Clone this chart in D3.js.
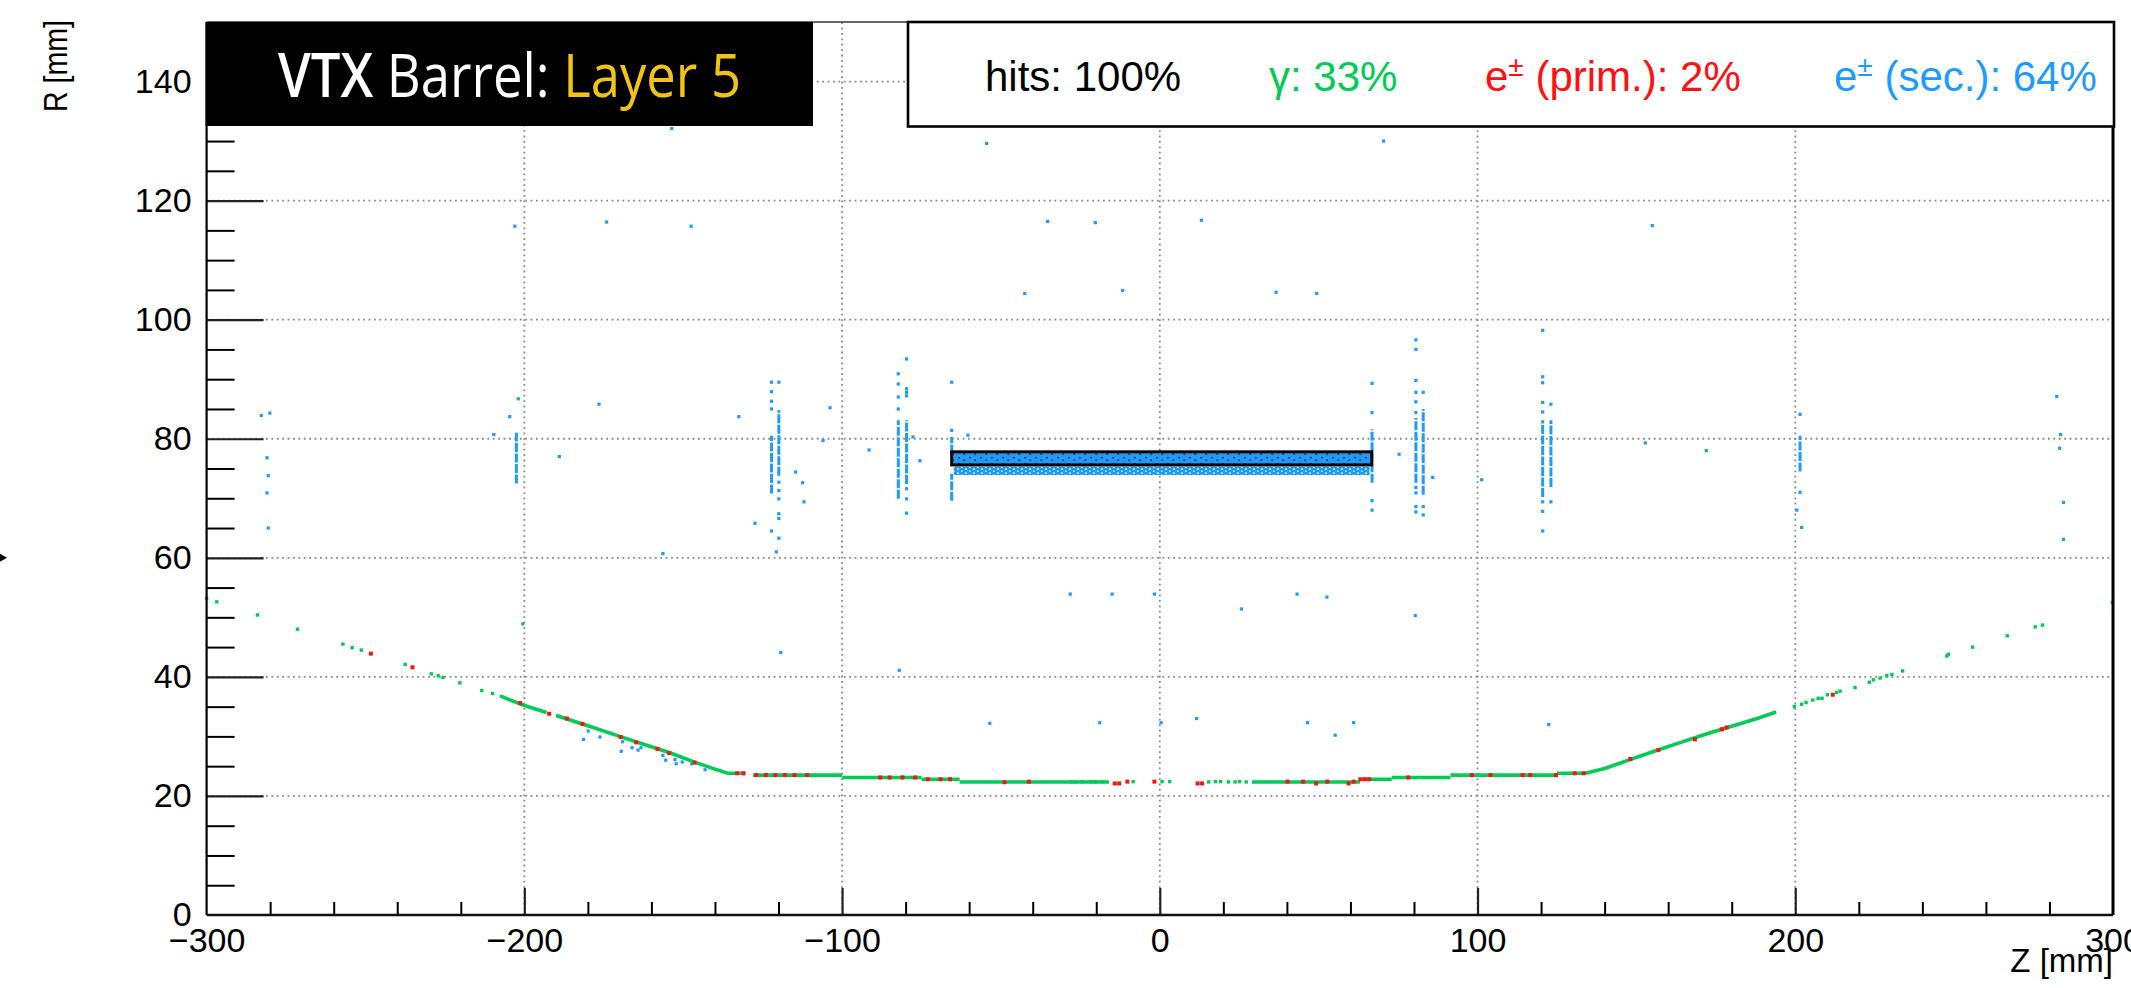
<!DOCTYPE html>
<html><head><meta charset="utf-8">
<script src="https://cdn.jsdelivr.net/npm/d3@7"></script>
<style>html,body{margin:0;padding:0;background:#fff;overflow:hidden}</style>
</head><body>
<svg id="c" width="2131" height="988" xmlns="http://www.w3.org/2000/svg"></svg>
<script>
// ---------------- data ----------------
const zTicks = [-300, -200, -100, 0, 100, 200, 300];
const rTicks = [0, 20, 40, 60, 80, 100, 120, 140];
const zMinorTicks = [-280,-260,-240,-220,-180,-160,-140,-120,-80,-60,-40,-20,20,40,60,80,120,140,160,180,220,240,260,280];
const rMinorTicks = [5,10,15,25,30,35,45,50,55,65,70,75,85,90,95,105,110,115,125,130,135,145];
const zLabel = "Z [mm]";
const rLabel = "R [mm]";
const titleParts = ["VTX", " Barrel: ", "Layer 5"];
const legendLabels = ["hits: 100%", "γ: 33%", "(prim.): 2%", "(sec.): 64%"];

// dense gamma hits along the beam pipe: polylines of [z, R]
const gammaTrace = [
  [[-207.7,36.8],[-200,35.2],[-193,34.0]],
  [[-190,33.5],[-180,31.8],[-170,30.0],[-162,28.6],[-154,27.2],[-146,25.6],[-140,24.5],[-136,23.8],[-130.8,23.8]],
  [[-128,23.5],[-100,23.5]],
  [[-100,23.1],[-75,23.1]],
  [[-75,22.8],[-63,22.8]],
  [[-63,22.35],[-16,22.35]],
  [[29,22.35],[63,22.35]],
  [[63,22.8],[73,22.8]],
  [[73,23.1],[91.5,23.1]],
  [[91.5,23.5],[125,23.5]],
  [[125,23.8],[134,23.8],[140,24.6],[148,26.1],[156,27.6],[164,29.0],[172,30.4],[180,31.7],[188,33.0],[194,34.1]]
];
// isolated gamma hits [z, R]
const gammaHits = [
  [-300,53.2],[-296.8,52.6],[-284,50.4],[-271.4,48.0],[-257.1,45.5],[-254.2,44.9],[-251.3,44.5],
  [-237.5,42.1],[-229.3,40.5],[-227.1,40.2],[-225.6,39.9],[-220.3,39.0],[-213.4,37.7],[-210,37.2],
  [-27.9,22.4],[-26.5,22.4],[-24.4,22.4],[-21.6,22.4],[-20.3,22.4],[-18.2,22.4],[-8.4,22.4],[0.7,22.4],[3.1,22.4],
  [15.4,22.35],[17.5,22.4],[19.1,22.4],[21.6,22.35],[23.7,22.35],[25.1,22.4],[27.2,22.35],
  [199.7,35.0],[202,35.4],[203.4,35.7],[205.5,36.1],[207.2,36.4],[208.4,36.4],[210.1,37.0],[213,37.4],
  [214.1,37.6],[218.8,38.2],[223.3,39.1],[224.6,39.5],[226.7,39.8],[228.8,40.2],[230.4,40.4],[233.8,41.0],
  [247.7,43.5],[248.2,43.8],[255.8,45.0],[266.7,46.9],[275.5,48.4],[277.8,48.7],[299.8,52.5]
];
// primary e± hits [z, R]
const primHits = [
  [-248.3,43.9],[-235.2,41.6],[-201.3,35.6],[-192.2,33.8],[-186.6,33.0],[-181.7,32.1],[-169.7,29.9],
  [-164.8,29.0],[-158.1,27.9],[-154.4,27.2],[-146.4,25.6],
  [-133,23.8],[-131,23.8],[-127,23.5],[-124,23.5],[-121,23.5],[-118,23.5],[-115,23.5],[-111,23.5],
  [-88,23.1],[-85,23.1],[-81,23.1],[-77,23.1],[-73,22.8],[-69,22.8],[-66,22.8],
  [-48.9,22.3],[-41.2,22.4],[-14.2,22.1],[-12.8,22.1],[-10.2,22.4],[-1.7,22.4],[11.9,22.1],[13.3,22.1],
  [40.2,22.4],[45.1,22.4],[49.2,22.1],[52.7,22.4],[59.4,22.1],[61,22.4],[63.1,22.8],[64.5,22.8],[65.9,22.8],
  [78.2,23.1],[98.2,23.5],[104.1,23.5],[114.2,23.5],[116.6,23.5],[124.7,23.5],[130.6,23.8],[133.4,23.8],
  [148.1,26.2],[156.9,27.7],[168.4,29.5],[176.9,31.2],[178.4,31.5],[211.8,37.0]
];
// isolated secondary e± hits [z, R]
const secHits = [
  [-153.6,132.1],[-54.5,129.6],[70.4,130.0],[-203,115.7],[-174.1,116.4],[-147.5,115.7],[-35.3,116.5],
  [-20.3,116.3],[13.1,116.7],[155,115.8],[-42.5,104.4],[-11.7,104.9],[36.6,104.6],[49.4,104.4],
  [-282.8,83.9],[-280.1,84.3],[-281,76.8],[-280.6,73.8],[-281,70.9],[-280.6,65.0],
  [-201.9,86.7],[-204.6,83.7],[-209.6,80.7],[-189,77.0],[-176.5,85.8],[-132.5,83.7],[-103.8,85.2],
  [-106,79.7],[-127.4,65.8],[-114.6,74.4],[-112.4,72.6],[-112,69.4],[-91.5,78.1],[-77.7,80.3],[-75.5,76.3],
  [-60.4,80.6],[75.3,77.4],[85.9,73.5],[101.3,73.1],[152.8,79.3],[172,78.0],
  [-122.2,89.5],[-122.2,87.9],[-122.2,86.3],[-122.2,85.0],[-119.9,89.5],[-119.9,72.7],[-119.9,71.3],
  [-119.9,69.9],[-119.9,67.4],[-119.9,66.6],[-119.9,63.3],[-122.2,64.5],
  [-82.3,90.9],[-82.3,89.2],[-82.3,87.0],[-82.3,85.0],[-79.7,93.4],[-79.7,88.4],[-79.7,87.8],[-79.7,87.2],
  [-79.7,71.6],[-79.7,69.9],[-79.7,67.5],[-65.5,89.5],[-65.5,81.4],
  [66.8,89.3],[66.8,84.4],[66.8,69.6],[66.8,68.0],[80.6,96.6],[80.6,95.0],[80.6,89.8],[80.6,87.8],
  [80.6,86.2],[80.6,84.4],[80.6,71.8],[80.6,70.9],[80.6,68.6],[80.6,67.7],[82.9,87.8],[82.9,68.6],[82.9,67.2],
  [120.5,98.2],[120.5,90.4],[120.5,89.4],[120.5,86.1],[120.5,84.5],[120.5,69.4],[120.5,67.8],[120.5,64.5],
  [123.1,85.8],[123.1,69.4],
  [201.5,84.1],[201.5,71.0],[202,65.1],[200.5,68.0],
  [282.3,87.1],[283.5,80.7],[283.2,78.4],[284.4,69.3],[284.4,63.1],
  [-119.3,44.1],[-120.7,61.0],[-156.4,60.7],[-200.5,48.9],
  [-181.4,29.5],[-179.9,30.9],[-176.2,29.9],[-169.5,27.5],[-169.1,29.1],[-166.1,28.1],[-164.2,27.7],
  [-163.3,28.1],[-156.4,26.8],[-155.5,26.0],[-152.6,26.1],[-152.2,25.4],[-150.3,25.7],[-147.3,25.4],[-143.1,24.4],
  [-18.9,32.3],[0.4,32.3],[11.6,33.0],[46.5,32.3],[55.2,30.2],[61,32.3],[122.4,32.0],[-53.5,32.2],
  [-28.2,53.9],[-15,53.9],[-1.7,53.9],[25.7,51.4],[43.2,53.9],[52.6,53.4],[80.4,50.3],[-82,41.1]
];
// dense vertical clusters of secondary e± hits: [z, Rlow, Rhigh]
const secClusters = [
  [-202.5,72.5,81.0],[-122.2,70.8,80.5],[-119.9,73.8,84.8],[-82.3,69.9,83.1],[-79.7,72.4,83.1],
  [-65.5,77.5,80.3],[-65.5,69.6,74.1],[66.8,72.6,81.6],[80.6,72.6,83.5],[82.9,70.6,85.0],
  [120.5,70.2,83.1],[123.1,71.9,83.1],[201.5,74.5,80.5]
];
// Layer 5 sensor: z extent, R band of the layer, and R band of secondaries just below it
const layerZ = [-65.5, 66.7];
const layerR = [75.6, 77.8];
const layerSecR = [73.9, 75.3];

// ---------------- drawing ----------------
const W = 2131, H = 988;
const mL = 206.6, mR = 2113, mT = 22, mB = 915;
const GREEN = "#00cc55", RED = "#ff1010", BLUE = "#1e9bff", GOLD = "#f2c314";
const FONT = "'Liberation Sans', Arial, Helvetica, sans-serif";

const svg = d3.select("#c");
const x = d3.scaleLinear().domain([-300, 300]).range([mL, mR]);
const y = d3.scaleLinear().domain([0, 150]).range([mB, mT]);

const defs = svg.append("defs");
const p1 = defs.append("pattern").attr("id","layerTex").attr("patternUnits","userSpaceOnUse")
  .attr("width",11).attr("height",6);
p1.append("rect").attr("width",11).attr("height",6).attr("fill",BLUE);
p1.append("rect").attr("x",1).attr("y",1).attr("width",2).attr("height",1.2).attr("fill","#000");
p1.append("rect").attr("x",6.5).attr("y",3.6).attr("width",1.6).attr("height",1.2).attr("fill","#000");
const p2 = defs.append("pattern").attr("id","secTex").attr("patternUnits","userSpaceOnUse")
  .attr("width",8).attr("height",4);
p2.append("rect").attr("width",8).attr("height",4).attr("fill",BLUE);
p2.append("rect").attr("x",5).attr("y",0.5).attr("width",2).attr("height",1.3).attr("fill","#fff");
p2.append("rect").attr("x",1).attr("y",2.6).attr("width",1.5).attr("height",1.2).attr("fill","#fff");

svg.append("rect").attr("width",W).attr("height",H).attr("fill","#fff");

// grid
const grid = svg.append("g").attr("stroke","#8a8a8a").attr("stroke-width",1.8).attr("stroke-dasharray","1.8 3.6");
grid.selectAll(".gx").data(zTicks.filter(d => d > -300 && d < 300)).join("line")
  .attr("x1", d => x(d)).attr("x2", d => x(d)).attr("y1", y(0)).attr("y2", y(150));
grid.selectAll(".gy").data(rTicks.filter(d => d > 0)).join("line")
  .attr("y1", d => y(d)).attr("y2", d => y(d)).attr("x1", x(-300)).attr("x2", x(300));

// ticks (inward) via d3 axes
function tickAxis(axis, tr, color, w) {
  const g = svg.append("g").attr("transform", tr).call(axis);
  g.select(".domain").remove();
  g.selectAll("text").remove();
  g.selectAll("line").attr("stroke", color).attr("stroke-width", w);
  return g;
}
tickAxis(d3.axisRight(y).tickValues(rMinorTicks).tickSize(28), `translate(${x(-300)},0)`, "#000", 2);
tickAxis(d3.axisRight(y).tickValues(rTicks.filter(d => d > 0)).tickSize(57), `translate(${x(-300)},0)`, "#222", 2.2);
tickAxis(d3.axisTop(x).tickValues(zMinorTicks).tickSize(13), `translate(0,${y(0)})`, "#000", 2);
tickAxis(d3.axisTop(x).tickValues(zTicks.filter(d => d > -300 && d < 300)).tickSize(27), `translate(0,${y(0)})`, "#222", 2.2);

// tick labels
const gyl = svg.append("g").attr("transform", `translate(${x(-300)},0)`)
  .call(d3.axisLeft(y).tickValues(rTicks).tickSize(0).tickPadding(15).tickFormat(d3.format("d")));
gyl.select(".domain").remove();
gyl.selectAll("text").attr("font-family", FONT).attr("font-size", 34).attr("fill", "#000");
const gxl = svg.append("g").attr("transform", `translate(0,${y(0)})`)
  .call(d3.axisBottom(x).tickValues(zTicks).tickSize(0).tickPadding(13).tickFormat(d3.format("d")));
gxl.select(".domain").remove();
gxl.selectAll("text").attr("font-family", FONT).attr("font-size", 34).attr("fill", "#000");

// axis titles
svg.append("text").attr("x", mR).attr("y", 972).attr("text-anchor", "end")
  .attr("font-family", FONT).attr("font-size", 33).text(zLabel);
svg.append("text").attr("transform", `translate(67,20) rotate(-90)`).attr("text-anchor", "end")
  .attr("font-family", FONT).attr("font-size", 33).attr("textLength", 92).attr("lengthAdjust", "spacingAndGlyphs")
  .text(rLabel);

// ---- data marks ----
const line = d3.line().x(d => x(d[0])).y(d => y(d[1]));
svg.append("rect").attr("x", x(layerZ[0]) + 2).attr("width", x(layerZ[1]) - x(layerZ[0]) - 4)
  .attr("y", y(layerSecR[1])).attr("height", y(layerSecR[0]) - y(layerSecR[1])).attr("fill", "url(#secTex)");
svg.append("g").selectAll("line").data(secClusters).join("line")
  .attr("x1", d => x(d[0])).attr("x2", d => x(d[0])).attr("y1", d => y(d[1])).attr("y2", d => y(d[2]))
  .attr("stroke", BLUE).attr("stroke-width", 3).attr("stroke-dasharray", "9 1.5");
svg.append("g").selectAll("rect").data(secHits).join("rect")
  .attr("x", d => x(d[0]) - 1.6).attr("y", d => y(d[1]) - 1.6).attr("width", 3.2).attr("height", 3.2).attr("fill", BLUE);
svg.append("rect").attr("x", x(layerZ[0])).attr("width", x(layerZ[1]) - x(layerZ[0]))
  .attr("y", y(layerR[1])).attr("height", y(layerR[0]) - y(layerR[1]))
  .attr("fill", "url(#layerTex)").attr("stroke", "#000").attr("stroke-width", 3);
svg.append("g").selectAll("path").data(gammaTrace).join("path")
  .attr("d", line).attr("fill", "none").attr("stroke", GREEN).attr("stroke-width", 3.6);
svg.append("g").selectAll("rect").data(gammaHits).join("rect")
  .attr("x", d => x(d[0]) - 1.7).attr("y", d => y(d[1]) - 1.7).attr("width", 3.4).attr("height", 3.4).attr("fill", GREEN);
svg.append("g").selectAll("rect").data(primHits).join("rect")
  .attr("x", d => x(d[0]) - 2).attr("y", d => y(d[1]) - 2).attr("width", 4).attr("height", 4).attr("fill", RED);

// frame
const frame = svg.append("g").attr("stroke", "#000");
frame.append("line").attr("x1", x(-300)).attr("x2", x(-300)).attr("y1", y(150)).attr("y2", y(0)).attr("stroke-width", 2.2);
frame.append("line").attr("x1", x(-300)).attr("x2", x(300)).attr("y1", y(0)).attr("y2", y(0)).attr("stroke-width", 2.4).attr("stroke","#111");
frame.append("line").attr("x1", x(300)).attr("x2", x(300)).attr("y1", y(150)).attr("y2", y(0)).attr("stroke-width", 3);
frame.append("line").attr("x1", x(-300)).attr("x2", x(300)).attr("y1", y(150)).attr("y2", y(150)).attr("stroke-width", 1.5).attr("stroke","#333");

// title box
svg.append("rect").attr("x", mL - 1).attr("y", mT).attr("width", 813 - mL + 1).attr("height", 126 - mT).attr("fill", "#000");
const TF = "'Open Sans', Lato, sans-serif";
const title = svg.append("text").attr("x", 278).attr("y", 97).attr("font-family", TF).attr("font-size", 61)
  .attr("textLength", 463).attr("lengthAdjust", "spacingAndGlyphs").attr("xml:space", "preserve");
title.append("tspan").attr("font-weight", 600).attr("fill", "#fff").text(titleParts[0]);
title.append("tspan").attr("fill", "#fff").text(titleParts[1]);
title.append("tspan").attr("fill", GOLD).text(titleParts[2]);

// legend box
svg.append("rect").attr("x", 908).attr("y", mT).attr("width", 2114 - 908).attr("height", 126.5 - mT)
  .attr("fill", "#fff").attr("stroke", "#000").attr("stroke-width", 2.6);
const lg = svg.append("g").attr("font-family", FONT).attr("font-size", 42);
lg.append("text").attr("x", 985).attr("y", 91).attr("fill", "#000").text(legendLabels[0]);
lg.append("text").attr("x", 1269).attr("y", 91).attr("fill", GREEN).text(legendLabels[1]);
const t3 = lg.append("text").attr("x", 1485).attr("y", 91).attr("fill", RED);
t3.append("tspan").text("e");
t3.append("tspan").attr("font-size", 28).attr("dy", -15).text("±");
t3.append("tspan").attr("dy", 15).text(" " + legendLabels[2]);
const t4 = lg.append("text").attr("x", 1834).attr("y", 91).attr("fill", BLUE);
t4.append("tspan").text("e");
t4.append("tspan").attr("font-size", 28).attr("dy", -15).text("±");
t4.append("tspan").attr("dy", 15).text(" " + legendLabels[3]);

// small marker at left edge
svg.append("path").attr("d", `M0,${y(60) - 4} L7,${y(60)} L0,${y(60) + 4} Z`).attr("fill", "#000");
</script>
</body></html>
